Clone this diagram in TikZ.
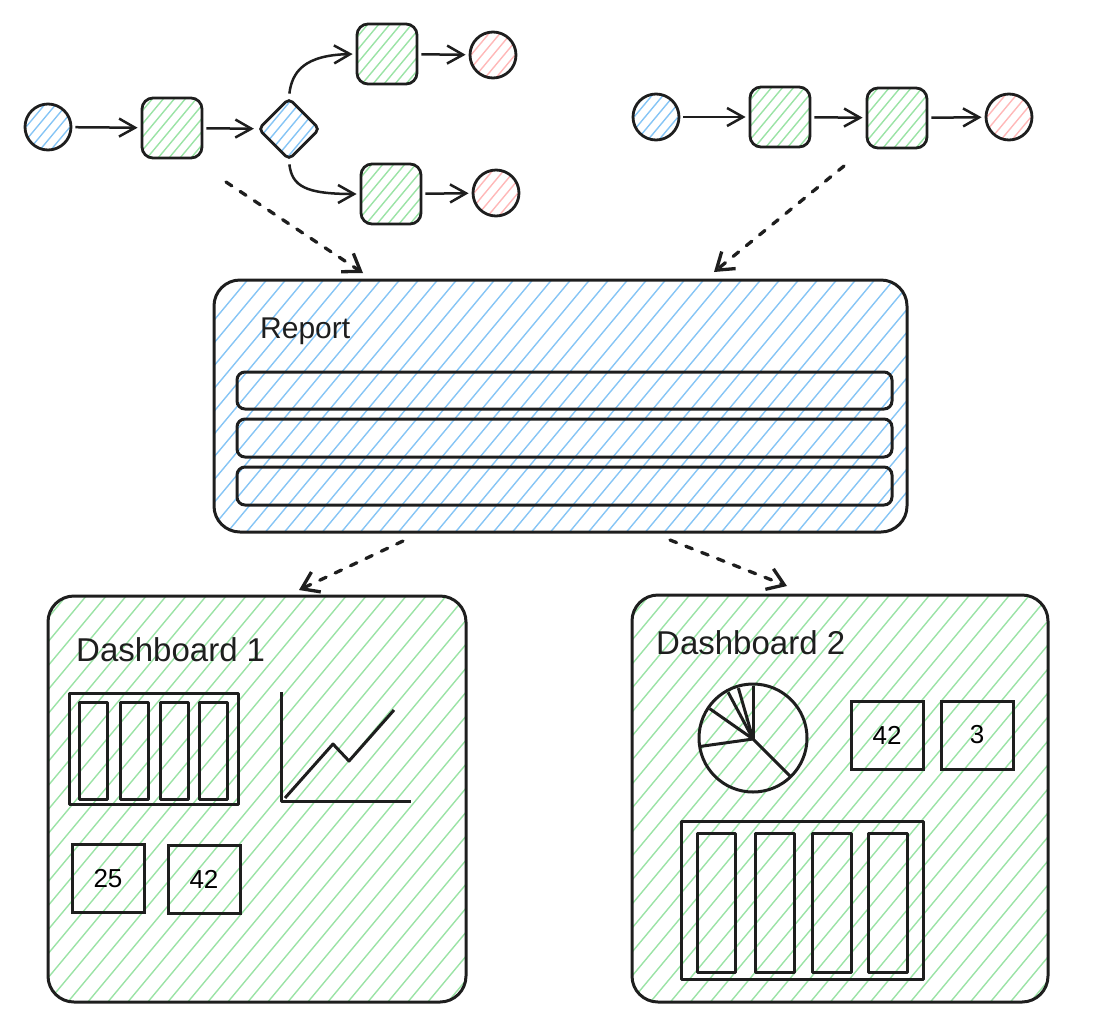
\documentclass[tikz,border=0pt]{standalone}
\usepackage{fontspec}
\setmainfont{Liberation Sans}
\usetikzlibrary{arrows.meta,shapes.geometric,calc}

\definecolor{ink}{HTML}{1E1E1E}
\definecolor{hblue}{HTML}{86C5F5}
\definecolor{hgreen}{HTML}{9BE3A6}
\definecolor{hred}{HTML}{FFB8B8}

\tikzset{
  % diagonal hachure clipped to the node outline: colour, horizontal gap, line count each side
  hatch/.style n args={3}{path picture={
    \foreach \k in {-#3,...,#3}{
      \draw[#1, line width=1.4pt, line cap=round]
        ($(path picture bounding box.center)+({\k*#2-400},480)$) -- ++(800,-960);
    }}},
  flowbox/.style={draw=ink, line width=2.8pt, rounded corners=11pt,
    minimum width=60pt, minimum height=60pt, inner sep=0pt, hatch={hgreen}{11}{9}},
  startdot/.style={circle, draw=ink, line width=2.8pt, minimum size=46pt,
    inner sep=0pt, hatch={hblue}{11}{7}},
  enddot/.style={circle, draw=ink, line width=2.8pt, minimum size=46pt,
    inner sep=0pt, hatch={hred}{11}{7}},
  gate/.style={diamond, draw=ink, line width=2.8pt, rounded corners=5pt,
    minimum width=62pt, minimum height=62pt, inner sep=0pt, hatch={hblue}{11}{9}},
  flowarrow/.style={draw=ink, line width=2.5pt, shorten <=3pt, shorten >=3pt,
    -{Straight Barb[length=16pt,width=18pt]}},
  dasharrow/.style={draw=ink, line width=3.3pt, line cap=round,
    dash pattern=on 7pt off 10pt, -{Straight Barb[length=16pt,width=22pt]}},
  bigbox/.style={draw=ink, line width=3pt, rounded corners=26pt, inner sep=0pt},
  reportrow/.style={draw=ink, line width=3pt, rounded corners=8pt, inner sep=0pt,
    minimum width=655pt},
  chart/.style={draw=ink, line width=3pt, line join=round},
  tile/.style={draw=ink, line width=3pt, inner sep=0pt, minimum width=72pt,
    minimum height=68pt, font=\fontsize{26}{30}\selectfont},
  heading/.style={anchor=base west, inner sep=0pt, text=ink},
}

\begin{document}
\begin{tikzpicture}[x=1pt, y=-1pt]
\useasboundingbox (0,0) rectangle (1097,1034);

% ---- branching process (top left) ----
\node[startdot] (s1) at (48,127) {};
\node[flowbox]  (t1) at (172,128) {};
\node[gate]     (g1) at (289,129) {};
\node[flowbox]  (t2) at (387,54) {};
\node[enddot]   (e1) at (493,55) {};
\node[flowbox]  (t3) at (391,194) {};
\node[enddot]   (e2) at (496,193) {};

\draw[flowarrow] (s1) -- (t1);
\draw[flowarrow] (t1) -- (g1);
\draw[flowarrow] (g1.north) .. controls (292,72) and (304,55) .. (t2.west);
\draw[flowarrow] (g1.south) .. controls (292,186) and (305,194) .. (t3.west);
\draw[flowarrow] (t2) -- (e1);
\draw[flowarrow] (t3) -- (e2);

% ---- linear process (top right) ----
\node[startdot] (s2) at (656,117) {};
\node[flowbox]  (t4) at (780,117) {};
\node[flowbox]  (t5) at (897,118) {};
\node[enddot]   (e3) at (1009,117) {};

\draw[flowarrow] (s2) -- (t4);
\draw[flowarrow] (t4) -- (t5);
\draw[flowarrow] (t5) -- (e3);

% ---- report ----
\node[bigbox, hatch={hblue}{19}{32}, minimum width=693pt, minimum height=252pt]
  (rep) at (560.5,406) {};
\node[heading, font=\fontsize{30}{36}\selectfont] (replabel) at (260,338) {Report};
\node[reportrow, minimum height=37pt] (row1) at (564.5,390.5) {};
\node[reportrow, minimum height=38pt] (row2) at (564.5,438) {};
\node[reportrow, minimum height=38pt] (row3) at (564.5,486) {};

% ---- dashboards ----
\node[bigbox, hatch={hgreen}{20}{24}, minimum width=418pt, minimum height=406pt]
  (dash1) at (257,799) {};
\node[bigbox, hatch={hgreen}{20}{24}, minimum width=416pt, minimum height=407pt]
  (dash2) at (840,798.5) {};
\node[heading, font=\fontsize{33}{38}\selectfont] (d1label) at (76,661) {Dashboard 1};
\node[heading, font=\fontsize{33}{38}\selectfont] (d2label) at (656,654) {Dashboard 2};

% dashboard 1: bar chart, line chart, two figures
\draw[chart] (69,693) rectangle (238,804);
\draw[chart] (79,702) rectangle (107,799);
\draw[chart] (120,702) rectangle (148,799);
\draw[chart] (160,702) rectangle (188,799);
\draw[chart] (199,702) rectangle (227,799);
\draw[chart] (281,692) -- (281,801) -- (411,801);
\draw[chart] (285,798) -- (333,744) -- (349,761) -- (394,710);
\node[tile] (k25) at (108,878.5) {25};
\node[tile] (k42a) at (204,879) {42};

% dashboard 2: pie chart, two figures, bar chart
\draw[chart] (753,738) circle[radius=54];
\draw[chart] (790.5,776.5) -- (753,739) -- (700.5,746.4);
\draw[chart] (753,739) -- (709.6,708.6);
\draw[chart] (753,739) -- (728.1,692.2);
\draw[chart] (753,739) -- (738.4,688.1);
\draw[chart] (753,739) -- (753,686);
\node[tile] (k42b) at (887,735) {42};
\node[tile] (k3) at (977,735) {3};
\draw[chart] (681,821) rectangle (923,979);
\draw[chart] (697,833) rectangle (735,972);
\draw[chart] (755,833) rectangle (794,972);
\draw[chart] (812,833) rectangle (851,972);
\draw[chart] (868,833) rectangle (907,972);

% ---- data flow between the layers ----
\coordinate (f1a) at (226,182);  \coordinate (f1b) at (363,273);
\coordinate (f2a) at (844,166);  \coordinate (f2b) at (714,272);
\coordinate (f3a) at (403,541);  \coordinate (f3b) at (299,590);
\coordinate (f4a) at (670,540);  \coordinate (f4b) at (787,586);
\draw[dasharrow] (f1a) -- (f1b);
\draw[dasharrow] (f2a) -- (f2b);
\draw[dasharrow] (f3a) -- (f3b);
\draw[dasharrow] (f4a) -- (f4b);
\end{tikzpicture}
\end{document}
